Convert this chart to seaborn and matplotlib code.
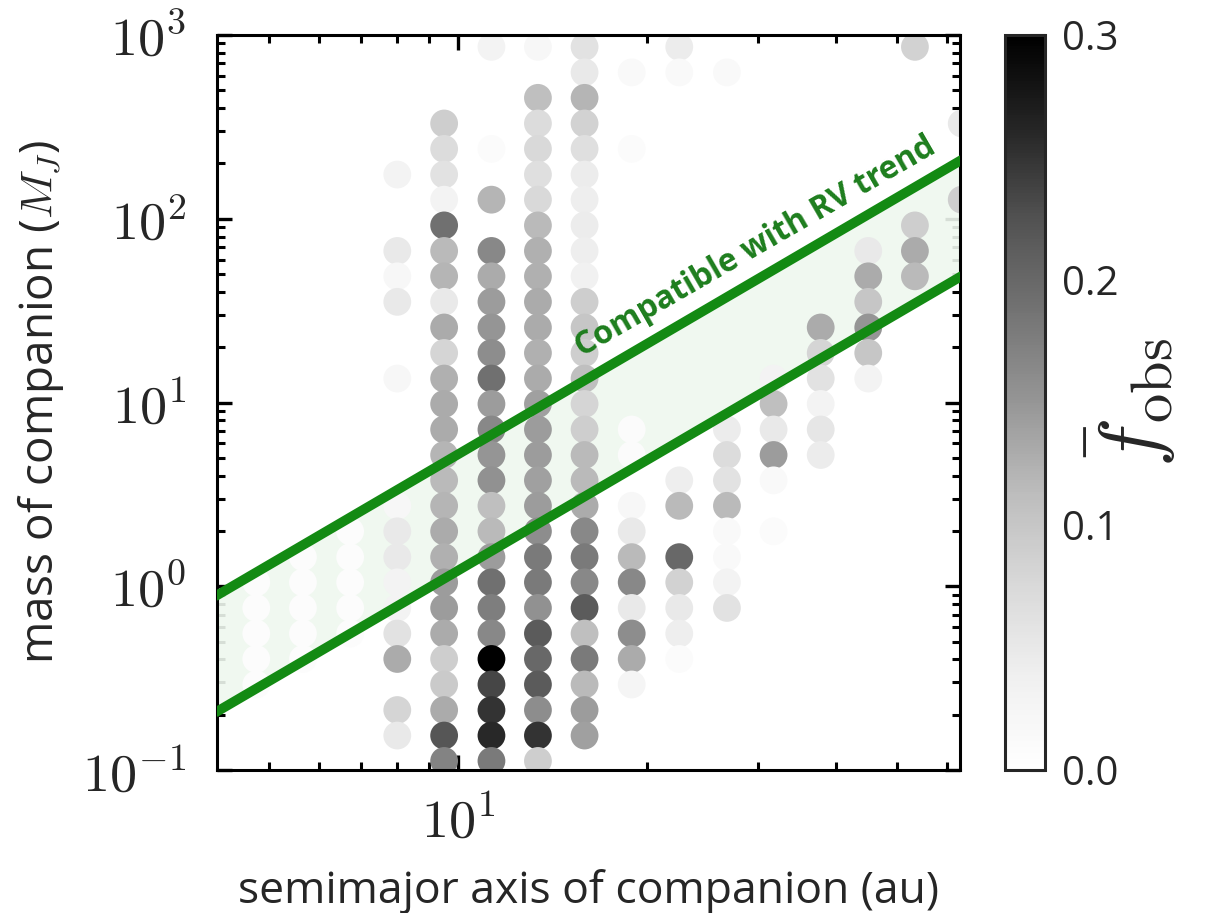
import matplotlib
matplotlib.use("Agg")
import matplotlib.pyplot as plt
import matplotlib.ticker as mticker
import numpy as np
import pandas as pd
import seaborn as sns

# --- grid centres ---
semimajor_au = [4.77, 5.66, 6.73, 8.0, 9.5, 11.3, 13.4, 15.9,
                18.9, 22.5, 26.8, 31.8, 37.8, 45.0, 53.4, 63.4]
# rows listed top -> bottom
mass_mj = [862, 626, 455, 330, 240, 174, 127, 92.0, 66.8, 48.6, 35.3, 25.6,
           18.6, 13.5, 9.82, 7.13, 5.18, 3.77, 2.74, 1.99, 1.44, 1.05,
           0.762, 0.553, 0.402, 0.292, 0.212, 0.154, 0.112]

# mean observed fraction per cell (0 = no dot), one row per mass
f_obs = [
    [0, 0, 0, 0, 0, .03, .02, .06, 0, .045, 0, 0, 0, 0, .085, 0],
    [0, 0, 0, 0, 0, 0, 0, .05, .015, .015, .015, 0, 0, 0, 0, 0],
    [0, 0, 0, 0, 0, 0, .11, .12, 0, 0, 0, 0, 0, 0, 0, 0],
    [0, 0, 0, 0, .09, 0, .07, .085, 0, 0, 0, 0, 0, 0, 0, .05],
    [0, 0, 0, 0, .07, .01, .075, .065, .01, 0, 0, 0, 0, 0, 0, 0],
    [0, 0, 0, .03, .06, 0, .065, .045, 0, 0, 0, 0, 0, 0, 0, 0],
    [0, 0, 0, 0, .03, .12, .075, .04, 0, 0, 0, 0, 0, 0, 0, .09],
    [0, 0, 0, 0, .19, 0, .115, .045, 0, 0, 0, 0, 0, 0, .09, 0],
    [0, 0, 0, .05, .115, .165, .125, .04, 0, 0, 0, 0, 0, .05, .13, 0],
    [0, 0, 0, .02, .12, .13, .125, .035, 0, 0, 0, 0, 0, .13, .115, 0],
    [0, 0, 0, .05, .05, .145, .13, .09, 0, 0, 0, 0, 0, .10, 0, 0],
    [0, 0, 0, 0, .13, .15, .13, .10, 0, 0, 0, 0, .13, .15, 0, 0],
    [0, 0, 0, 0, .08, .16, .125, .09, 0, 0, 0, 0, .08, .10, 0, 0],
    [0, 0, 0, .02, .125, .19, .13, .11, 0, 0, 0, .03, .06, .03, 0, 0],
    [0, 0, 0, 0, .13, .145, .14, .08, 0, 0, 0, .11, .03, 0, 0, 0],
    [0, 0, 0, 0, .13, .165, .145, .09, .01, 0, .045, .05, .055, 0, 0, 0],
    [0, 0, 0, 0, .12, .15, .145, .115, .01, 0, .07, .145, .045, 0, 0, 0],
    [0, 0, 0, 0, .115, .155, .14, .115, 0, .04, .06, .015, 0, 0, 0, 0],
    [0, 0, 0, .02, .12, .11, .145, .13, .02, .115, .115, 0, 0, 0, 0, 0],
    [0, 0, .008, .05, .13, .115, .16, .165, .05, 0, .015, .01, 0, 0, 0, 0],
    [0, .008, .008, .05, .125, .145, .18, .18, .115, .2, .015, 0, 0, 0, 0, 0],
    [.008, .008, .008, .03, .145, .19, .18, .165, .165, .085, .03, 0, 0, 0, 0, 0],
    [.008, .008, .008, .03, .145, .175, .155, .215, .05, .05, .06, 0, 0, 0, 0, 0],
    [.008, .008, .008, .06, .13, .165, .215, .11, .16, .04, 0, 0, 0, 0, 0, 0],
    [.008, .008, 0, .13, .09, .30, .20, .18, .13, .01, 0, 0, 0, 0, 0, 0],
    [.008, 0, 0, 0, .095, .235, .215, .115, .025, 0, 0, 0, 0, 0, 0, 0],
    [0, 0, 0, .08, .13, .25, .16, .145, 0, 0, 0, 0, 0, 0, 0, 0],
    [0, 0, 0, .05, .22, .26, .25, .14, 0, 0, 0, 0, 0, 0, 0, 0],
    [0, 0, 0, 0, .17, .18, .09, 0, 0, 0, 0, 0, 0, 0, 0, 0],
]

# RV-trend band edges (end points)
rv_a = [4.1, 63.5]
rv_upper = [0.88, 210]
rv_lower = [0.205, 49]

x_limits = (4.13, 63.0)
y_limits = (0.1, 1000)
cbar_ticks = [0.0, 0.1, 0.2, 0.3]

# --- long-form table for seaborn ---
rows = []
for i, m in enumerate(mass_mj):
    for j, a in enumerate(semimajor_au):
        if f_obs[i][j] > 0:
            rows.append({'a': a, 'm': m, 'f': f_obs[i][j]})
df = pd.DataFrame(rows)

sns.set_theme(style='ticks')
plt.rcParams['font.family'] = ['Open Sans', 'DejaVu Sans']
plt.rcParams['mathtext.fontset'] = 'cm'

fig = plt.figure(figsize=(12.28, 9.13), dpi=100)
ax = fig.add_axes([217 / 1228, 1 - 770 / 913, 743 / 1228, 735 / 913])

ax.fill_between(rv_a, rv_lower, rv_upper, color='#eff8ef', alpha=0.9,
                linewidth=0, zorder=1)
sns.scatterplot(data=df, x='a', y='m', hue='f', palette='Greys',
                hue_norm=(0, 0.3), s=400, linewidth=0, legend=False,
                ax=ax, zorder=2)
ax.plot(rv_a, rv_upper, color='#138a13', lw=7, solid_capstyle='butt', zorder=3)
ax.plot(rv_a, rv_lower, color='#138a13', lw=7, solid_capstyle='butt', zorder=3)

ax.text(29.8, 70, 'Compatible with RV trend', rotation=30,
        rotation_mode='anchor', ha='center', va='center',
        color='#1d7d1d', fontsize=23, fontweight='bold', zorder=4)

ax.set_xscale('log')
ax.set_yscale('log')
ax.set_xlim(*x_limits)
ax.set_ylim(*y_limits)


def pow10(v, pos):
    return r'$10^{%d}$' % int(round(np.log10(v)))


ax.xaxis.set_major_locator(mticker.FixedLocator([10]))
ax.xaxis.set_major_formatter(mticker.FuncFormatter(pow10))
ax.yaxis.set_major_locator(mticker.FixedLocator([0.1, 1, 10, 100, 1000]))
ax.yaxis.set_major_formatter(mticker.FuncFormatter(pow10))
ax.xaxis.set_minor_formatter(mticker.NullFormatter())
ax.yaxis.set_minor_formatter(mticker.NullFormatter())

ax.set_xlabel('semimajor axis of companion (au)', fontsize=32, labelpad=14)
ax.set_ylabel('mass of companion ($M_J$)', fontsize=33, labelpad=12)

for s in ax.spines.values():
    s.set_linewidth(2.2)
    s.set_color('black')
ax.tick_params(which='both', direction='in', top=True, right=True,
               color='black', labelsize=39)
ax.tick_params(which='major', length=11, width=2.4)
ax.tick_params(axis='x', which='major', pad=18)
ax.tick_params(axis='y', which='major', pad=22)
ax.tick_params(which='minor', length=6, width=2.2)

# colorbar
sm = plt.cm.ScalarMappable(cmap='Greys', norm=plt.Normalize(0, 0.3))
cax = fig.add_axes([1005 / 1228, 1 - 770 / 913, 40 / 1228, 735 / 913])
cb = fig.colorbar(sm, cax=cax, ticks=cbar_ticks)
cb.outline.set_linewidth(2.2)
cb.ax.tick_params(direction='in', length=11, width=2.2, pad=12)
cb.ax.set_yticklabels(['%.1f' % t for t in cbar_ticks], fontsize=29)
cb.set_label(r'$\bar{f}_{\rm obs}$', fontsize=60, labelpad=-24)

fig.savefig('out.png', dpi=100)
